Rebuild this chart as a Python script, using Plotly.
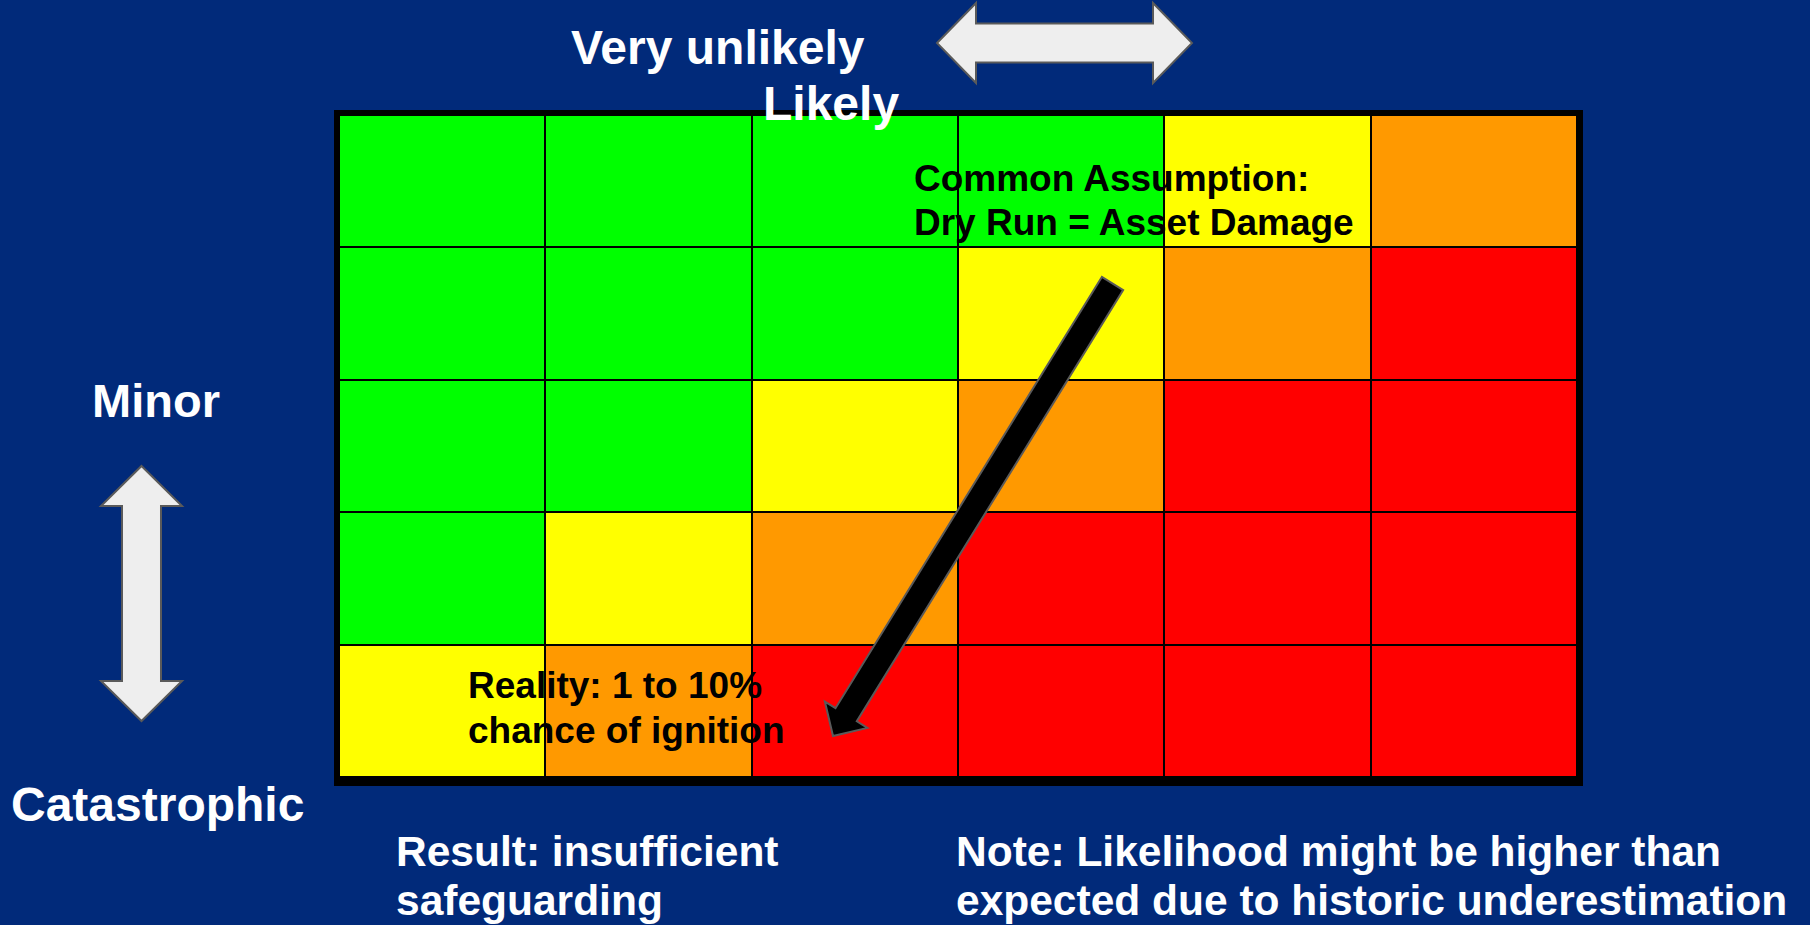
import plotly.graph_objects as go

# ---------------- data ----------------
W, H = 1810, 925
BG = "#012A7A"

likelihood_index = [0, 1, 2, 3, 4, 5]          # columns: very unlikely -> likely
severity_index = [0, 1, 2, 3, 4]               # rows: minor (top) -> catastrophic (bottom)
risk_level = [                                 # 0 green, 1 yellow, 2 orange, 3 red
    [0, 0, 0, 0, 1, 2],
    [0, 0, 0, 1, 2, 3],
    [0, 0, 1, 2, 3, 3],
    [0, 1, 2, 3, 3, 3],
    [1, 2, 3, 3, 3, 3],
]
level_colors = ["#00FF00", "#FFFF00", "#FF9900", "#FF0000"]

top_labels = ["Very unlikely", "Likely"]
side_labels = ["Minor", "Catastrophic"]
assumption_lines = ["Common Assumption:", "Dry Run = Asset Damage"]
reality_lines = ["Reality: 1 to 10%", "chance of ignition"]
result_lines = ["Result: insufficient", "safeguarding"]
note_lines = ["Note: Likelihood might be higher than",
              "expected due to historic underestimation"]

# ---------------- layout helpers (pixel -> paper) ----------------
def X(px):
    return px / W

def Y(py):
    return 1 - py / H

FONT = "Liberation Sans, Arial, sans-serif"

# grid placement in pixels
GRID_L, GRID_R, GRID_T, GRID_B = 339, 1577, 115, 777
FRAME_L, FRAME_R, FRAME_T, FRAME_B = 334, 1583, 110, 786

# colorscale with discrete steps
n = len(level_colors)
cs = []
for i, c in enumerate(level_colors):
    cs.append([i / n, c])
    cs.append([(i + 1) / n, c])

fig = go.Figure(go.Heatmap(
    z=risk_level,
    x=likelihood_index,
    y=severity_index,
    colorscale=cs,
    zmin=-0.5, zmax=n - 0.5,
    showscale=False,
    xgap=2, ygap=2,
    hoverinfo="skip",
))

fig.update_xaxes(domain=[X(GRID_L), X(GRID_R)], range=[-0.5, 5.5],
                 visible=False, fixedrange=True)
fig.update_yaxes(domain=[Y(GRID_B), Y(GRID_T)], range=[4.5, -0.5],
                 visible=False, fixedrange=True)

shapes = []
# black frame behind the grid
shapes.append(dict(type="rect", xref="paper", yref="paper", layer="below",
                   x0=X(FRAME_L), x1=X(FRAME_R), y0=Y(FRAME_B), y1=Y(FRAME_T),
                   fillcolor="#000000", line=dict(width=0)))

def poly(points, fill, line_color, lw):
    d = "M " + " L ".join(f"{X(px):.5f},{Y(py):.5f}" for px, py in points) + " Z"
    return dict(type="path", xref="paper", yref="paper", path=d,
                fillcolor=fill, line=dict(color=line_color, width=lw), layer="above")

# horizontal double arrow (top)
HA = dict(l=937, r=1192, cy=43, head=39, hh=40, sh=19.5)
hpts = [
    (HA["l"], HA["cy"]),
    (HA["l"] + HA["head"], HA["cy"] - HA["hh"]),
    (HA["l"] + HA["head"], HA["cy"] - HA["sh"]),
    (HA["r"] - HA["head"], HA["cy"] - HA["sh"]),
    (HA["r"] - HA["head"], HA["cy"] - HA["hh"]),
    (HA["r"], HA["cy"]),
    (HA["r"] - HA["head"], HA["cy"] + HA["hh"]),
    (HA["r"] - HA["head"], HA["cy"] + HA["sh"]),
    (HA["l"] + HA["head"], HA["cy"] + HA["sh"]),
    (HA["l"] + HA["head"], HA["cy"] + HA["hh"]),
]
shapes.append(poly(hpts, "#EEEEEE", "#5A5A5A", 2))

# vertical double arrow (left)
VA = dict(t=466, b=721, cx=141.5, head=40, hh=40.5, sh=19.5)
vpts = [
    (VA["cx"], VA["t"]),
    (VA["cx"] + VA["hh"], VA["t"] + VA["head"]),
    (VA["cx"] + VA["sh"], VA["t"] + VA["head"]),
    (VA["cx"] + VA["sh"], VA["b"] - VA["head"]),
    (VA["cx"] + VA["hh"], VA["b"] - VA["head"]),
    (VA["cx"], VA["b"]),
    (VA["cx"] - VA["hh"], VA["b"] - VA["head"]),
    (VA["cx"] - VA["sh"], VA["b"] - VA["head"]),
    (VA["cx"] - VA["sh"], VA["t"] + VA["head"]),
    (VA["cx"] - VA["hh"], VA["t"] + VA["head"]),
]
shapes.append(poly(vpts, "#EEEEEE", "#5A5A5A", 2))

# diagonal black arrow
S = (1112.5, 283.5)
T = (833, 736)
hw, head_len, head_hw = 12.5, 25, 25
dx, dy = T[0] - S[0], T[1] - S[1]
L = (dx * dx + dy * dy) ** 0.5
ux, uy = dx / L, dy / L
nx, ny = -uy, ux
B = (T[0] - ux * head_len, T[1] - uy * head_len)
dpts = [
    (S[0] + nx * hw, S[1] + ny * hw),
    (B[0] + nx * hw, B[1] + ny * hw),
    (B[0] + nx * head_hw, B[1] + ny * head_hw),
    T,
    (B[0] - nx * head_hw, B[1] - ny * head_hw),
    (B[0] - nx * hw, B[1] - ny * hw),
    (S[0] - nx * hw, S[1] - ny * hw),
]
shapes.append(poly(dpts, "#000000", "#5A5A5A", 2))

annotations = []

def txt(s, x_px, baseline_px, size, color):
    top = baseline_px - 0.905 * size - 1
    annotations.append(dict(
        text=f"<b>{s}</b>", xref="paper", yref="paper",
        x=X(x_px - 1), y=Y(top), xanchor="left", yanchor="top",
        showarrow=False, align="left",
        font=dict(family=FONT, size=size, color=color),
    ))

txt(top_labels[0], 570, 63, 48, "#FFFFFF")
txt(top_labels[1], 762, 119, 48, "#FFFFFF")
txt(side_labels[0], 91, 416, 47, "#FFFFFF")
txt(side_labels[1], 10, 820, 48, "#FFFFFF")
txt(assumption_lines[0], 913, 190, 37, "#000000")
txt(assumption_lines[1], 913, 234, 37, "#000000")
txt(reality_lines[0], 467, 697, 37, "#000000")
txt(reality_lines[1], 467, 742, 37, "#000000")
txt(result_lines[0], 395, 865, 42.5, "#FFFFFF")
txt(result_lines[1], 395, 914, 42.5, "#FFFFFF")
txt(note_lines[0], 955, 865, 42.5, "#FFFFFF")
txt(note_lines[1], 955, 914, 42.5, "#FFFFFF")

fig.update_layout(
    width=W, height=H, autosize=False,
    margin=dict(l=0, r=0, t=0, b=0, pad=0),
    paper_bgcolor=BG, plot_bgcolor="#111111",
    shapes=shapes, annotations=annotations,
    showlegend=False,
)

fig.write_html("out.html", config={"displayModeBar": False},
               post_script="document.body.style.margin='0';document.body.style.overflow='hidden';")
